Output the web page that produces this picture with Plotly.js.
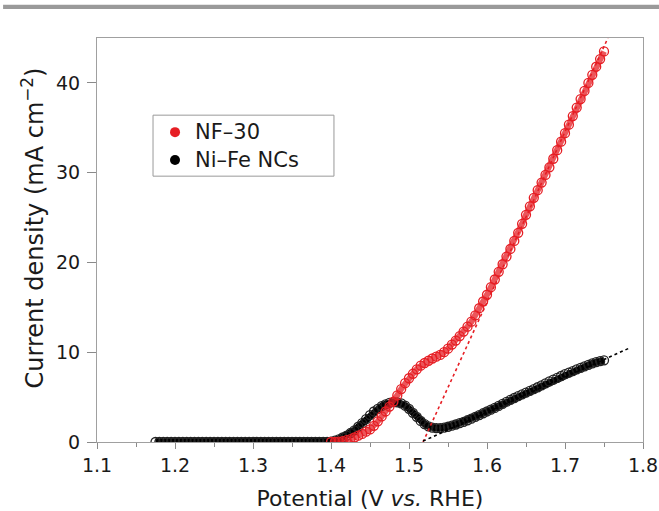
<!DOCTYPE html>
<html>
<head>
<meta charset="utf-8">
<script src="https://cdn.plot.ly/plotly-3.0.1.min.js"></script>
<style>html,body{margin:0;padding:0;background:#fff;}#chart{width:659px;height:511px;}</style>
</head>
<body>
<div id="chart"></div>
<script>
// Ni–Fe NCs (black)
const niFeV = [1.175,1.18,1.185,1.19,1.195,1.20,1.205,1.21,1.215,1.22,1.225,1.23,1.235,1.24,1.245,1.25,1.255,1.26,1.265,1.27,1.275,1.28,1.285,1.29,1.295,1.30,1.305,1.31,1.315,1.32,1.325,1.33,1.335,1.34,1.345,1.35,1.355,1.36,1.365,1.37,1.375,1.38,1.385,1.39,1.395,
1.400,1.405,1.410,1.415,1.420,1.425,1.430,1.435,1.440,1.445,1.450,1.455,1.460,1.465,1.470,1.475,1.480,1.485,1.490,1.495,1.500,1.505,1.510,1.515,1.520,1.525,1.530,1.535,1.540,1.545,1.550,1.555,1.560,1.565,1.570,1.575,1.580,1.585,1.590,1.595,1.600,1.605,1.610,1.615,1.620,1.625,1.630,1.635,1.640,1.645,1.650,1.655,1.660,1.665,1.670,1.675,1.680,1.685,1.690,1.695,1.700,1.705,1.710,1.715,1.720,1.725,1.730,1.735,1.740,1.745,1.750];
const niFeJ = [0,0,0,0,0,0,0,0,0,0,0,0,0,0,0,0,0,0,0,0,0,0,0,0,0,0,0,0,0,0,0,0,0,0,0,0,0,0,0,0,0,0,0,0,0,
0.05,0.15,0.3,0.5,0.7,1.0,1.3,1.7,2.1,2.55,3.0,3.4,3.7,4.0,4.2,4.35,4.45,4.42,4.3,4.05,3.7,3.25,2.8,2.35,2.0,1.75,1.6,1.55,1.55,1.6,1.7,1.82,1.95,2.1,2.25,2.42,2.6,2.8,3.0,3.2,3.4,3.6,3.8,4.02,4.25,4.48,4.7,4.9,5.1,5.3,5.5,5.7,5.9,6.1,6.3,6.52,6.75,6.95,7.15,7.35,7.55,7.72,7.9,8.08,8.25,8.42,8.6,8.75,8.9,9.0,9.1];

// NF-30 (red)
const nf30V = [1.400,1.405,1.410,1.415,1.420,1.425,1.430,1.435,1.440,1.445,1.450,1.455,1.460,1.465,1.470,1.475,1.480,1.485,1.490,1.495,1.500,1.505,1.510,1.515,1.520,1.525,1.530,1.535,1.540,1.545,1.550,1.555,1.560,1.565,1.570,1.575,1.580,1.585,1.590,1.595,1.600,1.605,1.610,1.615,1.620,1.625,1.630,1.635,1.640,1.645,1.650,1.655,1.660,1.665,1.670,1.675,1.680,1.685,1.690,1.695,1.700,1.705,1.710,1.715,1.720,1.725,1.730,1.735,1.740,1.745,1.750];
const nf30J = [0,0.02,0.05,0.1,0.2,0.33,0.5,0.7,0.9,1.15,1.4,1.8,2.3,2.85,3.4,3.95,4.5,5.2,5.9,6.55,7.1,7.6,8.1,8.5,8.8,9.05,9.3,9.5,9.7,10.0,10.4,10.85,11.3,11.8,12.3,12.85,13.4,14.1,14.9,15.65,16.4,17.25,18.1,18.95,19.8,20.65,21.5,22.4,23.3,24.3,25.3,26.25,27.2,28.05,28.9,29.75,30.6,31.55,32.5,33.45,34.4,35.35,36.3,37.25,38.2,39.1,40.0,40.9,41.8,42.65,43.5];

// Tangent (onset) extrapolation lines
const nfTanV = [1.518, 1.755];
const nfTanJ = [0, 45];
const niTanV = [1.518, 1.781];
const niTanJ = [0.1, 10.4];

const seriesNames = ['NF\u201330', 'Ni\u2013Fe NCs'];
const seriesColors = ['rgb(230,30,36)', '#000000'];
const RED = seriesColors[0];
const BLK = seriesColors[1];

const traces = [
  {x: niFeV, y: niFeJ, mode: 'lines+markers', type: 'scatter', name: seriesNames[1], showlegend: false,
   line: {color: BLK, width: 7},
   marker: {symbol: 'circle-open', size: 9, color: '#222', line: {width: 1.3, color: '#222'}}},
  {x: nfTanV, y: nfTanJ, mode: 'lines', type: 'scatter', showlegend: false,
   line: {color: RED, width: 1.6, dash: 'dot'}},
  {x: nf30V, y: nf30J, mode: 'lines+markers', type: 'scatter', name: seriesNames[0], showlegend: false,
   line: {color: 'rgba(230,30,36,0.75)', width: 6},
   marker: {symbol: 'circle-open', size: 9, color: RED, line: {width: 1.3, color: RED}}},
  {x: niTanV, y: niTanJ, mode: 'lines', type: 'scatter', showlegend: false,
   line: {color: BLK, width: 1.6, dash: 'dot'}}
];

const FONT = 'DejaVu Sans, Liberation Sans, Arial, sans-serif';
const TXT = '#1a1a1a';

// Legend box (paper coordinates) and entries
const legRowY = [0.767, 0.698];
const legDotX = 0.1429, legTextX = 0.176;
const rx = 5 / 546, ry = 5 / 404;
const shapes = [
  {type: 'rect', xref: 'paper', yref: 'paper', x0: -0.172, x1: 1.03, y0: 1.072, y1: 1.082,
   fillcolor: '#9a9a9a', line: {width: 0}, layer: 'above'},
  {type: 'rect', xref: 'paper', yref: 'paper', x0: 0.1026, x1: 0.434, y0: 0.658, y1: 0.809,
   fillcolor: '#fff', line: {color: '#999', width: 1}, layer: 'above'}
];
const annotations = [
  {xref: 'paper', yref: 'paper', x: -0.118, y: 0.53, xanchor: 'center', yanchor: 'middle',
   textangle: -90, showarrow: false, text: 'Current density (mA cm<sup>\u22122</sup>)',
   font: {size: 24, family: FONT, color: TXT}}
];
seriesNames.forEach((nm, i) => {
  shapes.push({type: 'circle', xref: 'paper', yref: 'paper',
    x0: legDotX - rx, x1: legDotX + rx, y0: legRowY[i] - ry, y1: legRowY[i] + ry,
    fillcolor: seriesColors[i], line: {width: 0}, layer: 'above'});
  annotations.push({xref: 'paper', yref: 'paper', x: legTextX, y: legRowY[i],
    xanchor: 'left', yanchor: 'middle', showarrow: false, text: nm,
    font: {size: 21, family: FONT, color: TXT}});
});

const layout = {
  width: 659, height: 511,
  margin: {l: 97, r: 16, t: 38, b: 69},
  paper_bgcolor: '#fff', plot_bgcolor: '#fff',
  font: {family: FONT, color: TXT, size: 19},
  showlegend: false,
  xaxis: {
    range: [1.1, 1.8], dtick: 0.1, tick0: 1.1, tickformat: '.1f',
    showgrid: false, zeroline: false,
    showline: true, linecolor: '#a0a0a0', linewidth: 1, mirror: true,
    ticks: 'outside', ticklen: 6, tickcolor: '#8a8a8a', tickwidth: 1,
    minor: {dtick: 0.05, ticks: 'outside', ticklen: 4, tickcolor: '#8a8a8a', showgrid: false},
    tickfont: {size: 19, family: FONT, color: TXT},
    title: {text: 'Potential (V <i>vs.</i> RHE)', font: {size: 22, family: FONT, color: TXT}, standoff: 15}
  },
  yaxis: {
    range: [0, 45], dtick: 10, tick0: 0,
    showgrid: false, zeroline: false,
    showline: true, linecolor: '#a0a0a0', linewidth: 1, mirror: true,
    ticks: 'outside', ticklen: 9, tickcolor: '#8a8a8a', tickwidth: 1,
    ticklabelstandoff: 3,
    tickfont: {size: 19, family: FONT, color: TXT}
  },
  shapes: shapes,
  annotations: annotations
};

Plotly.newPlot('chart', traces, layout, {displayModeBar: false, staticPlot: true});
</script>
</body>
</html>
